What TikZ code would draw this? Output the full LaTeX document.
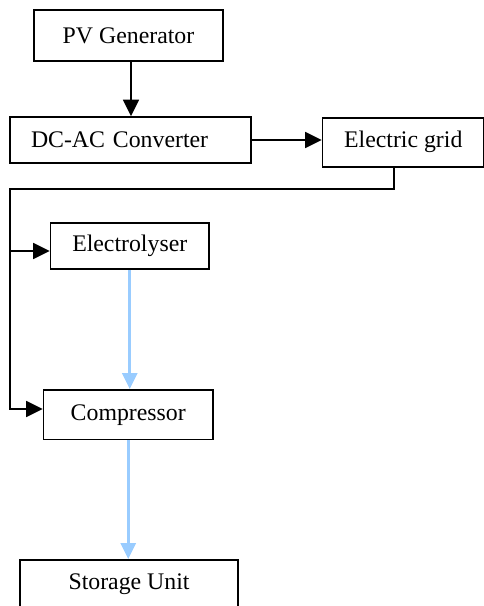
\documentclass[tikz,border=0pt]{standalone}
\usepackage{fontspec}
\setmainfont{Liberation Serif}
\usetikzlibrary{arrows.meta}
\definecolor{lblue}{RGB}{153,204,255}
\begin{document}
\begin{tikzpicture}[x=1pt,y=-1pt,
  box/.style={draw=black,line width=1.8pt,rectangle,inner sep=0pt,font=\fontsize{23.8}{28}\selectfont},
  conn/.style={draw=black,line width=1.8pt,-{Triangle[length=16.5pt,width=16pt]}},
  plain/.style={draw=black,line width=1.8pt},
  flow/.style={draw=lblue,line width=3pt,-{Triangle[length=16pt,width=15pt]}}]
\useasboundingbox (0,0) rectangle (484,606);
\clip (0,0) rectangle (484,606);
\node[box,minimum width=189pt,minimum height=51pt] (pv) at (128.5,35.5) {PV Generator};
\node[box,minimum width=241pt,minimum height=46pt,inner xsep=21pt,text width=199pt,align=left] (dcac) at (130.5,140) {DC-AC Converter};
\node[box,minimum width=161.5pt,minimum height=49pt] (grid) at (403.25,142.2) {Electric grid};
\node[box,minimum width=158.5pt,minimum height=46pt] (elec) at (129.75,246) {Electrolyser};
\node[box,minimum width=169.5pt,minimum height=49.5pt] (comp) at (128.25,414.75) {Compressor};
\node[box,minimum width=218pt,minimum height=48pt] (stor) at (129,584) {Storage Unit};
\coordinate (top) at (10,189);
\coordinate (j1) at (10,251);
\coordinate (j2) at (10,409);
\draw[conn] ([xshift=2.5pt]pv.south) -- ([xshift=2.5pt]pv.south |- dcac.north);
\draw[conn] (dcac.east) -- (dcac.east -| grid.west);
\draw[plain] ([xshift=-9pt]grid.south) |- (top) -- (j1);
\draw[conn] (j1) -- (j2) -- (j2 -| comp.west);
\draw[conn] (j1) -- (j1 -| elec.west);
\draw[flow] (elec.south) -- (elec.south |- comp.north);
\draw[flow] (comp.south) -- (comp.south |- stor.north);
\end{tikzpicture}
\end{document}
